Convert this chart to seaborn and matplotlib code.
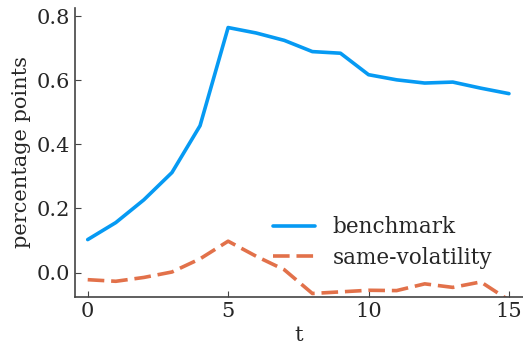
import matplotlib
matplotlib.use("Agg")

import matplotlib.pyplot as plt
import pandas as pd
import seaborn as sns

# ---------------------------------------------------------------------------
# Data
# ---------------------------------------------------------------------------
t = list(range(16))
benchmark = [0.103, 0.156, 0.227, 0.312, 0.458, 0.764, 0.747, 0.724,
             0.689, 0.684, 0.617, 0.601, 0.591, 0.594, 0.575, 0.558]
same_vol = [-0.022, -0.027, -0.015, 0.002, 0.043, 0.098, 0.051, 0.009,
            -0.065, -0.060, -0.055, -0.056, -0.035, -0.046, -0.029, -0.086]

SERIES = ["benchmark", "same-volatility"]
PALETTE = {"benchmark": "#069AF3", "same-volatility": "#E2714A"}

df = pd.concat([
    pd.DataFrame({"t": t, "value": benchmark, "series": "benchmark"}),
    pd.DataFrame({"t": t, "value": same_vol, "series": "same-volatility"}),
])

sns.set_theme(style="ticks")
plt.rcParams["font.family"] = ["DejaVu Serif"]
plt.rcParams["xtick.direction"] = "in"
plt.rcParams["ytick.direction"] = "in"

fig, ax = plt.subplots(figsize=(5.23, 3.47), dpi=100)
sns.lineplot(
    data=df, x="t", y="value", hue="series", style="series",
    hue_order=SERIES, style_order=SERIES, palette=PALETTE,
    dashes={"benchmark": "", "same-volatility": (4.6, 1.9)},
    linewidth=2.6, ax=ax,
)

ax.set_xlim(-0.46, 15.5)
ax.set_ylim(-0.075, 0.825)
ax.set_xticks([0, 5, 10, 15])
ax.set_yticks([0.0, 0.2, 0.4, 0.6, 0.8])
ax.tick_params(labelsize=15, length=4, width=0.8, color="#444444")
ax.set_xlabel("t", fontsize=15)
ax.set_ylabel("percentage points", fontsize=15)
for s in ["left", "bottom"]:
    ax.spines[s].set_color("#444444")
    ax.spines[s].set_linewidth(1.2)
sns.despine(ax=ax)

ax.legend(frameon=False, fontsize=15.5, loc="center left",
          bbox_to_anchor=(0.40, 0.187), handlelength=1.95,
          labelspacing=0.4)

fig.subplots_adjust(left=0.143, right=1.0, top=0.977, bottom=0.145)
fig.savefig("out.png", dpi=100)
